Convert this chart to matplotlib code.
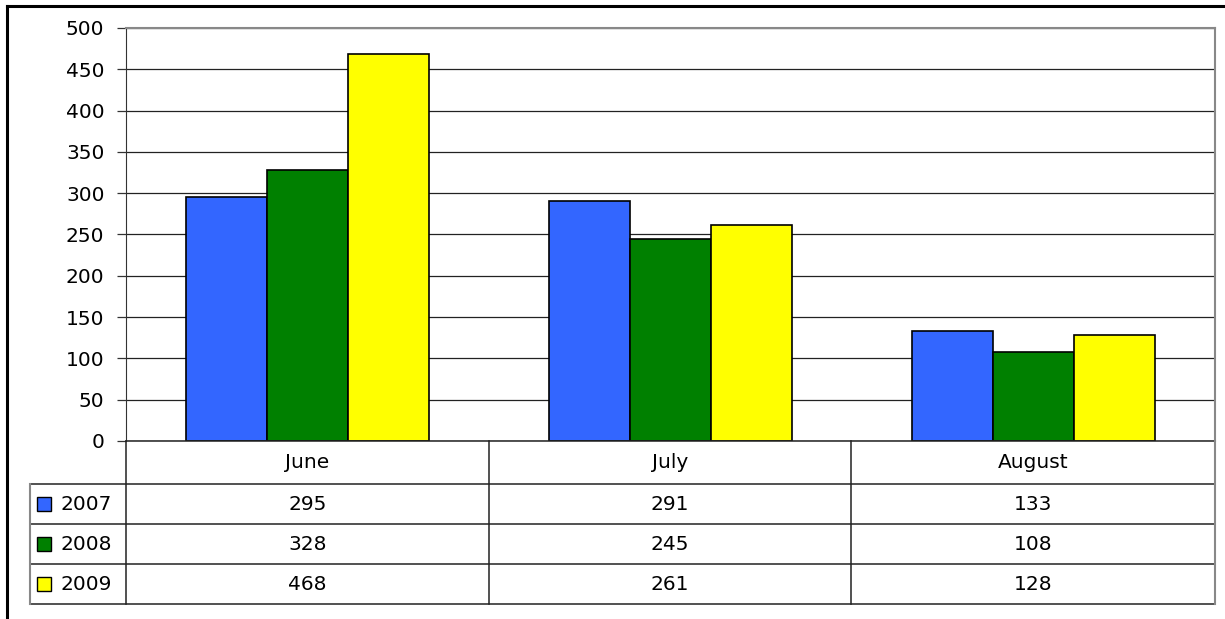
import numpy as np
import matplotlib.pyplot as plt
from matplotlib.patches import Rectangle
from matplotlib.lines import Line2D

plt.rcParams["font.family"] = ["DejaVu Sans"]

months = ["June", "July", "August"]
years = ["2007", "2008", "2009"]
v2007 = [295, 291, 133]
v2008 = [328, 245, 108]
v2009 = [468, 261, 128]
colors = ["#3366FF", "#008000", "#FFFF00"]

W, H = 1225, 619
FS = 14.5
fig = plt.figure(figsize=(W / 100, H / 100), dpi=100)
fig.patch.set_facecolor("white")


def px_box(x0, y0, x1, y1):
    # pixel box (top-left origin) -> figure fraction rect
    return [x0 / W, 1 - y1 / H, (x1 - x0) / W, (y1 - y0) / H]


# =========================
# bar chart
# =========================
ax = fig.add_axes(px_box(126, 28, 1215, 441))
series = [v2007, v2008, v2009]
x = np.arange(len(months))
bw = 81 / 363
for i, vals in enumerate(series):
    ax.bar(x + (i - 1) * bw, vals, width=bw, color=colors[i],
           edgecolor="black", linewidth=1.2, zorder=3)

ax.set_xlim(-0.5, len(months) - 0.5)
ax.set_ylim(0, 500)
ax.set_yticks(np.arange(0, 501, 50))
ax.set_xticks([])
ax.yaxis.grid(True, color="#222222", linewidth=0.9, zorder=0)
ax.tick_params(axis="y", length=6.5, width=0.9, pad=9, labelsize=FS,
               color="#333333")
for side in ["top", "right"]:
    ax.spines[side].set_color("#888888")
    ax.spines[side].set_linewidth(1.5)
ax.spines["left"].set_color("#333333")
ax.spines["bottom"].set_visible(False)

# =========================
# data table
# =========================
tab = fig.add_axes([0, 0, 1, 1], zorder=5)
tab.set_xlim(0, W)
tab.set_ylim(H, 0)
tab.axis("off")
tab.patch.set_alpha(0)

col_edges = [126, 489, 851, 1215]
row_edges = [441, 484, 524, 564, 604]
lc = "#222222"

for yy in row_edges:
    x0 = 126 if yy == 441 else 30
    tab.add_line(Line2D([x0, 1215], [yy, yy], color=lc, lw=1.1))
for xx in col_edges[:-1]:
    tab.add_line(Line2D([xx, xx], [441, 604], color=lc, lw=1.1))
tab.add_line(Line2D([1215, 1215], [441, 604], color="#888888", lw=1.5))
tab.add_line(Line2D([30, 30], [484, 604], color="#888888", lw=1.5))

for j, m in enumerate(months):
    cx = (col_edges[j] + col_edges[j + 1]) / 2
    tab.text(cx, 463, m, ha="center", va="center", fontsize=FS)

for i, (yr, vals) in enumerate(zip(years, series)):
    cy = (row_edges[i + 1] + row_edges[i + 2]) / 2
    tab.add_patch(Rectangle((37, cy - 7), 14, 14, facecolor=colors[i],
                            edgecolor="black", lw=1.0))
    tab.text(60, cy, yr, ha="left", va="center", fontsize=FS)
    for j, v in enumerate(vals):
        cx = (col_edges[j] + col_edges[j + 1]) / 2
        tab.text(cx, cy, str(v), ha="center", va="center", fontsize=FS)

# outer chart frame (clipped on right and bottom)
tab.add_line(Line2D([7, 7], [6, H + 5], color="black", lw=2.2))
tab.add_line(Line2D([7, W + 5], [6, 6], color="black", lw=2.2))

fig.savefig("out.png", dpi=100)
